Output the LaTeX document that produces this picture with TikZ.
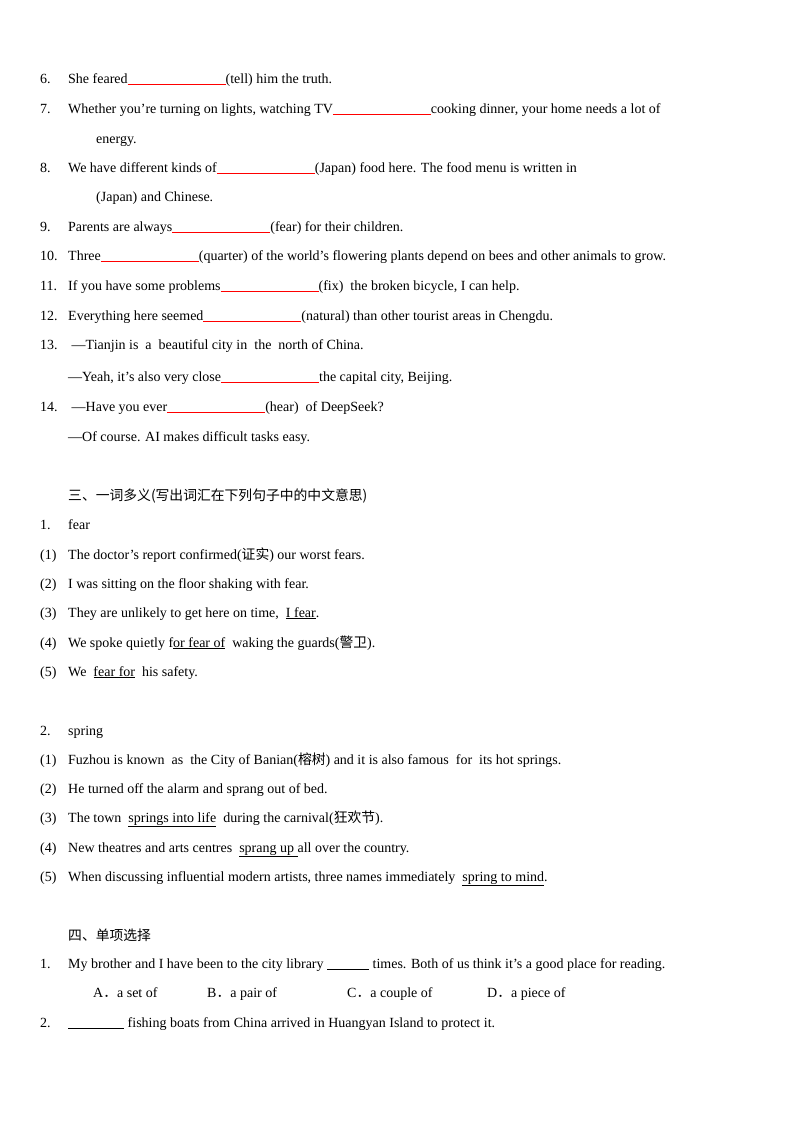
\documentclass[tikz,border=0pt]{standalone}
\usepackage{fontspec}
\setmainfont{Liberation Serif}
\newfontfamily\cjk{Noto Sans CJK SC}
\newcommand{\blank}{\textcolor{red}{\rule[-2pt]{98pt}{0.7pt}}}
\newcommand{\zh}[1]{{\cjk\fontsize{13.8pt}{15pt}\selectfont #1}}
\begin{document}
\begin{tikzpicture}[x=1pt,y=-1pt,
  t/.style={anchor=base west,inner sep=0pt,font=\fontsize{14pt}{16pt}\selectfont}]
\useasboundingbox (0,0) rectangle (800,1132);
\fill[white] (0,0) rectangle (800,1132);
\def\ln#1#2#3{\node[t] (n#1) at (40,#1+4) {#2}; \node[t] (m#1) at (68,#1+4) {#3};}
\def\tx#1#2#3{\node[t] (k#2) at (#1,#2+4) {#3};}
\ln{79}{6.}{She feared\blank(tell) him the truth.}
\ln{109}{7.}{Whether you’re turning on lights, watching TV\blank cooking dinner, your home needs a lot of}
\tx{96}{139}{energy.}
\ln{168}{8.}{We have different kinds of\blank(Japan) food here. The food menu is written in}
\tx{96}{197}{(Japan) and Chinese.}
\ln{227}{9.}{Parents are always\blank(fear) for their children.}
\ln{256}{10.}{Three\blank(quarter) of the world’s flowering plants depend on bees and other animals to grow.}
\ln{286}{11.}{If you have some problems\blank(fix)\ \ the broken bicycle, I can help.}
\ln{316}{12.}{Everything here seemed\blank(natural) than other tourist areas in Chengdu.}
\ln{345}{13.}{\ —Tianjin is\ \ a\ \ beautiful city in\ \ the\ \ north of China.}
\tx{68}{377}{—Yeah, it’s also very close\blank the capital city, Beijing.}
\ln{407}{14.}{\ —Have you ever\blank(hear)\ \ of DeepSeek?}
\tx{68}{437}{—Of course. AI makes difficult tasks easy.}
\tx{68}{496}{\zh{三、一词多义(写出词汇在下列句子中的中文意思)}}
\ln{525}{1.}{fear}
\ln{555}{(1)}{The doctor's report confirmed(\zh{证实}) our worst fears.}
\ln{584}{(2)}{I was sitting on the floor shaking with fear.}
\ln{613}{(3)}{They are unlikely to get here on time,\ \ \underline{I fear}.}
\ln{643}{(4)}{We spoke quietly f\underline{or fear of}\ \ waking the guards(\zh{警卫}).}
\ln{672}{(5)}{We\ \ \underline{fear for}\ \ his safety.}
\ln{731}{2.}{spring}
\ln{760}{(1)}{Fuzhou is known\ \ as\ \ the City of Banian(\zh{榕树}) and it is also famous\ \ for\ \ its hot springs.}
\ln{789}{(2)}{He turned off the alarm and sprang out of bed.}
\ln{818}{(3)}{The town\ \ \underline{springs into life}\ \ during the carnival(\zh{狂欢节}).}
\ln{848}{(4)}{New theatres and arts centres\ \ \underline{sprang up\ }all over the country.}
\ln{877}{(5)}{When discussing influential modern artists, three names immediately\ \ \underline{spring to mind}.}
\tx{68}{936}{\zh{四、单项选择}}
\ln{964}{1.}{My brother and I have been to the city library \underline{\hspace{42pt}} times. Both of us think it’s a good place for reading.}
\tx{93}{993}{A\zh{．}a set of}
\tx{207}{993}{B\zh{．}a pair of}
\tx{347}{993}{C\zh{．}a couple of}
\tx{487}{993}{D\zh{．}a piece of}
\ln{1023}{2.}{\underline{\hspace{56pt}} fishing boats from China arrived in Huangyan Island to protect it.}
\end{tikzpicture}
\end{document}
